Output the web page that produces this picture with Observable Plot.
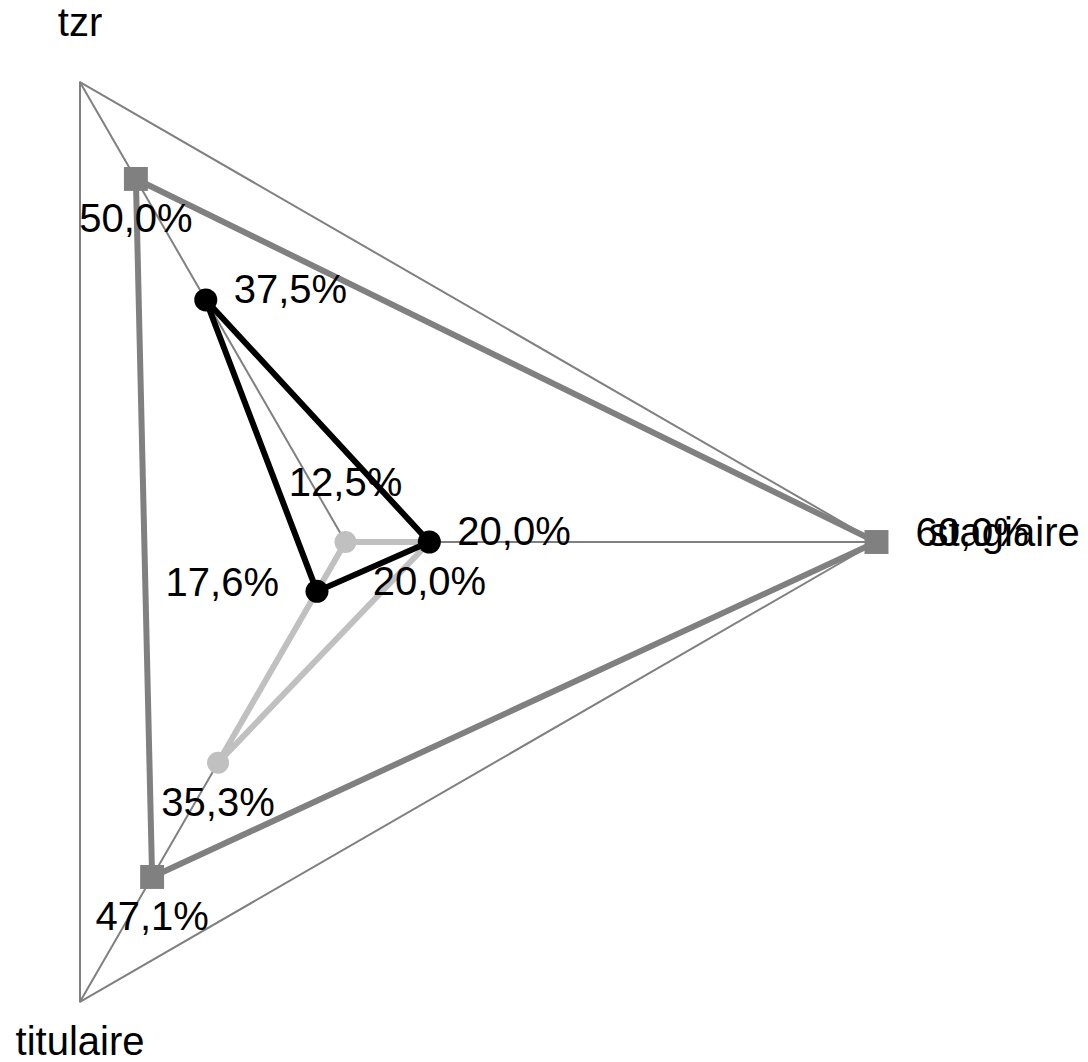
<!DOCTYPE html>
<html>
<head>
<meta charset="utf-8">
<script src="https://cdn.jsdelivr.net/npm/d3@7"></script>
<script src="https://cdn.jsdelivr.net/npm/@observablehq/plot@0.6"></script>
<style>
html, body { margin: 0; padding: 0; background: #ffffff; }
#chart svg { display: block; }
</style>
</head>
<body>
<div id="chart"></div>
<script>
// ---- data ----
const axes = ["stagiaire", "tzr", "titulaire"];
const seriesNames = ["série 1", "série 2", "série 3"];
const darkValues = [60.0, 50.0, 47.1];
const blackValues = [20.0, 37.5, 17.6];
const lightValues = [20.0, 12.5, 35.3];
const scaleMin = 12.5;
const scaleMax = 60.0;

// ---- layout ----
const W = 1088, H = 1062, CX = 345, CY = 541.5, R = 531;
const FONT = "'Liberation Sans', Arial, Helvetica, sans-serif";
const rad = d3.scaleLinear([scaleMin, scaleMax], [0, 1]);
const angle = i => i * 2 * Math.PI / axes.length;
const fmt = d3.formatLocale({decimal: ",", thousands: "\u00a0", grouping: [3], currency: ["", " €"]}).format(".1f");

function rows(name, values) {
  return values.map((v, i) => ({
    series: name, axis: axes[i], value: v, label: fmt(v) + "%",
    x: rad(v) * Math.cos(angle(i)), y: rad(v) * Math.sin(angle(i))
  }));
}
const dark = rows(seriesNames[0], darkValues);
const black = rows(seriesNames[1], blackValues);
const light = rows(seriesNames[2], lightValues);
const closed = r => [...r, r[0]];
const grid = axes.map((a, i) => ({axis: a, x: Math.cos(angle(i)), y: Math.sin(angle(i))}));

// label placements (style only)
const place = {
  below: {textAnchor: "middle", dy: 53},
  above: {textAnchor: "middle", dy: -46},
  right: {textAnchor: "start", dx: 28, dy: 3},
  rightFar: {textAnchor: "start", dx: 39, dy: 4},
  left: {textAnchor: "end", dx: -38, dy: 5},
  axisRight: {textAnchor: "start", dx: 52, dy: 4}
};
const labelPlace = {
  [seriesNames[0]]: ["rightFar", "below", "below"],
  [seriesNames[1]]: ["right", "right", "left"],
  [seriesNames[2]]: ["below", "above", "below"]
};
const axisPlace = ["axisRight", "above", "below"];

const textMarks = [];
for (const d of [...dark, ...black, ...light]) {
  const p = place[labelPlace[d.series][axes.indexOf(d.axis)]];
  textMarks.push(Plot.text([d], {x: "x", y: "y", text: "label", lineAnchor: "bottom", fill: "black", fontSize: 40, ...p}));
}
grid.forEach((g, i) => {
  textMarks.push(Plot.text([g], {x: "x", y: "y", text: "axis", lineAnchor: "bottom", fill: "black", fontSize: 40, ...place[axisPlace[i]]}));
});

const chart = Plot.plot({
  width: W,
  height: H,
  margin: 0,
  x: {domain: [-CX / R, (W - CX) / R], axis: null},
  y: {domain: [(CY - H) / R, CY / R], axis: null},
  style: {fontFamily: FONT, background: "#ffffff", overflow: "visible"},
  marks: [
    Plot.line(closed(grid), {x: "x", y: "y", stroke: "#808080", strokeWidth: 2}),
    Plot.link(grid, {x1: 0, y1: 0, x2: "x", y2: "y", stroke: "#808080", strokeWidth: 2}),
    Plot.line(closed(dark), {x: "x", y: "y", stroke: "#808080", strokeWidth: 6}),
    Plot.line(closed(light), {x: "x", y: "y", stroke: "#c0c0c0", strokeWidth: 6}),
    Plot.line(closed(black), {x: "x", y: "y", stroke: "#000000", strokeWidth: 6}),
    Plot.dot(dark, {x: "x", y: "y", symbol: "square", r: 13.5, fill: "#808080"}),
    Plot.dot(light, {x: "x", y: "y", r: 11, fill: "#c0c0c0"}),
    Plot.dot(black, {x: "x", y: "y", r: 11.5, fill: "#000000"}),
    ...textMarks
  ]
});
document.getElementById("chart").appendChild(chart);
</script>
</body>
</html>
